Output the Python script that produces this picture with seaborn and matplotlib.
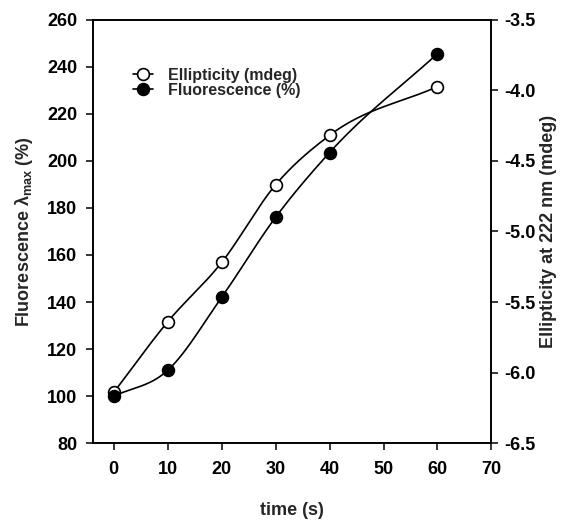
import numpy as np
import pandas as pd
import matplotlib
matplotlib.use('Agg')
import matplotlib.pyplot as plt
import seaborn as sns
from matplotlib.lines import Line2D

#%% data
time_s = [0, 10, 20, 30, 40, 60]
fluorescence = [100, 111, 142, 176, 203.5, 245.5]          # left axis, %
ellipticity = [-6.14, -5.64, -5.22, -4.67, -4.32, -3.975]  # right axis, mdeg

x_ticks = [0, 10, 20, 30, 40, 50, 60, 70]
left_ticks = [80, 100, 120, 140, 160, 180, 200, 220, 240, 260]
right_ticks = [-6.5, -6.0, -5.5, -5.0, -4.5, -4.0, -3.5]


def smooth(x, y, n=50):
    # cubic hermite through the points, like the sigmaplot spline line
    x = np.asarray(x, float)
    y = np.asarray(y, float)
    m = np.gradient(y, x)
    xs, ys = [], []
    t = np.linspace(0, 1, n)
    for i in range(len(x) - 1):
        h = x[i + 1] - x[i]
        h00 = 2 * t**3 - 3 * t**2 + 1
        h10 = t**3 - 2 * t**2 + t
        h01 = -2 * t**3 + 3 * t**2
        h11 = t**3 - t**2
        xs.append(x[i] + t * h)
        ys.append(h00 * y[i] + h10 * h * m[i] + h01 * y[i + 1] + h11 * h * m[i + 1])
    return pd.DataFrame({'x': np.concatenate(xs), 'y': np.concatenate(ys)})


#%% style
sns.set_style('ticks')
plt.rcParams['font.family'] = ['Liberation Sans', 'DejaVu Sans']
plt.rcParams['font.weight'] = 'bold'
plt.rcParams['mathtext.fontset'] = 'custom'
plt.rcParams['mathtext.rm'] = 'Liberation Sans:bold'
plt.rcParams['mathtext.it'] = 'Liberation Sans:bold'
plt.rcParams['mathtext.bf'] = 'Liberation Sans:bold'

fig = plt.figure(figsize=(5.71, 5.20), dpi=100)
ax = fig.add_axes([0.1623, 0.1475, 0.6984, 0.815])
ax2 = ax.twinx()
ax.set_zorder(ax2.get_zorder() + 1)
ax.patch.set_visible(False)

ms = 8.5
lw = 1.2

# ellipticity (right axis, open circles)
ell_line = smooth(time_s, ellipticity)
sns.lineplot(data=ell_line, x='x', y='y', ax=ax2, color='black', lw=lw, sort=False, estimator=None)
ax2.plot(time_s, ellipticity, ls='none', marker='o', ms=ms, mfc='white', mec='black', mew=1.2)

# fluorescence (left axis, filled circles)
flu_line = smooth(time_s, fluorescence)
sns.lineplot(data=flu_line, x='x', y='y', ax=ax, color='black', lw=lw, sort=False, estimator=None)
ax.plot(time_s, fluorescence, ls='none', marker='o', ms=ms, mfc='black', mec='black', mew=1.2)

#%% axes
ax.set_xlim(-3.9, 70)
ax.set_ylim(80, 260)
ax2.set_ylim(-6.5, -3.5)
ax.set_xticks(x_ticks)
ax.set_yticks(left_ticks)
ax2.set_yticks(right_ticks)
ax2.set_yticklabels([f'{v:.1f}' for v in right_ticks])

for a in (ax, ax2):
    for s in a.spines.values():
        s.set_visible(True)
        s.set_linewidth(1.2)
        s.set_color('black')
ax.tick_params(axis='x', direction='out', length=5, width=1.1, pad=8, labelsize=13, colors='black')
ax.tick_params(axis='y', direction='out', length=5, width=1.1, pad=6, labelsize=13, colors='black')
ax2.tick_params(axis='y', direction='out', length=5, width=1.1, pad=4, labelsize=13, colors='black')
for lab in ax.get_xticklabels() + ax.get_yticklabels() + ax2.get_yticklabels():
    lab.set_fontweight('bold')

ax.set_xlabel('time (s)', fontsize=13, fontweight='bold')
ax.set_ylabel(r'Fluorescence $\lambda_{\mathrm{max}}$ (%)', fontsize=13, fontweight='bold')
ax2.set_ylabel('Ellipticity at 222 nm (mdeg)', fontsize=13, fontweight='bold')
ax.xaxis.set_label_coords(0.5, -0.1385)
ax.yaxis.set_label_coords(-0.145, 0.5)
ax2.yaxis.set_label_coords(1.1216, 0.5)
ax.grid(False)
ax2.grid(False)

#%% legend
handles = [
    Line2D([], [], color='black', lw=lw, marker='o', ms=ms, mfc='white', mec='black', mew=1.2),
    Line2D([], [], color='black', lw=lw, marker='o', ms=ms, mfc='black', mec='black', mew=1.2),
]
ax.legend(handles, ['Ellipticity (mdeg)', 'Fluorescence (%)'], loc='upper left',
          bbox_to_anchor=(0.1003, 0.886), frameon=False, borderpad=0, borderaxespad=0,
          handlelength=1.3, handletextpad=0.9, labelspacing=0.0,
          prop={'family': 'Liberation Sans', 'weight': 'bold', 'size': 11.5})

fig.savefig('out.png', dpi=100)
